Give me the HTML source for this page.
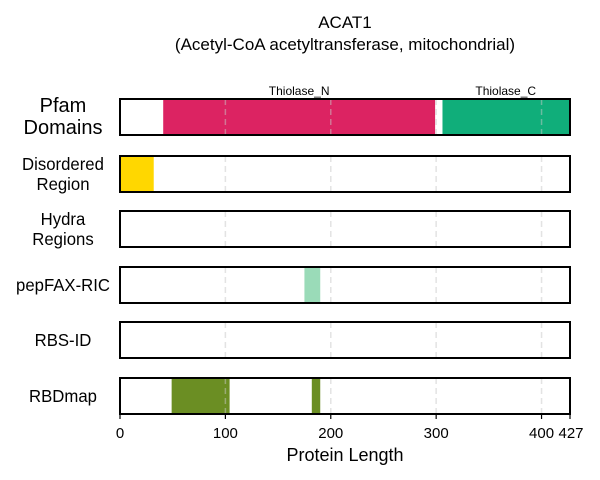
<!DOCTYPE html>
<html><head><meta charset="utf-8"><style>
body{margin:0;background:#fff;}
svg{display:block;font-family:"Liberation Sans",Arial,sans-serif;}
</style></head><body>
<svg id="chart" width="600" height="480">
<text x="345" y="28" font-size="17" text-anchor="middle">ACAT1</text>
<text x="345" y="50" font-size="17" text-anchor="middle">(Acetyl-CoA acetyltransferase, mitochondrial)</text>
<g id="rows"></g>
<g id="axis"></g>
<text x="345" y="461" font-size="18" text-anchor="middle">Protein Length</text>
</svg>
<script>
const tracks = ["Pfam Domains","Disordered Region","Hydra Regions","pepFAX-RIC","RBS-ID","RBDmap"];
const trackLabels = [["Pfam","Domains"],["Disordered","Region"],["Hydra","Regions"],["pepFAX-RIC"],["RBS-ID"],["RBDmap"]];
const segTrack = [0,0,1,3,5,5];
const segStart = [41,306,0,175,49,182];
const segEnd   = [299,427,32,190,104,190];
const segColor = ["#dc2362","#10ae7a","#ffd700","#9adbb8","#6b8e23","#6b8e23"];
const domainNames = ["Thiolase_N","Thiolase_C"];
const domainCenters = [170,366];
const ticks = [0,100,200,300,400,427];
const grid = [100,200,300,400];
const proteinLen = 427;

const NS="http://www.w3.org/2000/svg";
const x0=120,x1=570;
const xs=v=>x0+(x1-x0)*v/proteinLen;
const rowTop=[99,156,211,267,322,378], rowH=36;
function mk(t,a,p){const e=document.createElementNS(NS,t);for(const k in a)e.setAttribute(k,a[k]);p.appendChild(e);return e;}
const rows=document.getElementById('rows');
tracks.forEach((t,i)=>{
  const y=rowTop[i];
  const r=mk('rect',{x:x0,y:y,width:x1-x0,height:rowH,fill:'#fff'},rows);
  
  
  segTrack.forEach((tr,j)=>{ if(tr!==i)return;
    const s=mk('rect',{x:xs(segStart[j]),y:y,width:xs(segEnd[j])-xs(segStart[j]),height:rowH,fill:segColor[j]},rows);
    
    
  });
  grid.forEach(g=>{
    const l=mk('line',{x1:xs(g),x2:xs(g),y1:y,y2:y+rowH,stroke:'#c8c8c8','stroke-width':1.5,'stroke-dasharray':'6,4','stroke-opacity':0.5},rows);
    
    
  });
  const b=mk('rect',{x:x0,y:y,width:x1-x0,height:rowH,fill:'none',stroke:'#000','stroke-width':2},rows);
  
  
  const lab=trackLabels[i];
  const fs=i===0?20:18;
  const tx=mk('text',{x:63,'font-size':fs,'text-anchor':'middle'},rows);
  
  
  const cy=y+rowH/2;
  lab.forEach((s,k)=>{const ts=mk('tspan',{x:63,y:cy+6+(k-(lab.length-1)/2)*(fs+2)},tx);ts.textContent=s;});
  const sc=i===0?1:0.93;
  tx.setAttribute('transform','translate(63,0) scale('+sc+',1) translate(-63,0)');
});
domainNames.forEach((n,i)=>{
  const t=mk('text',{x:xs(domainCenters[i]),y:95,'font-size':12,'text-anchor':'middle'},rows);
  t.textContent=n;
  
  
});
const ax=document.getElementById('axis');
ticks.forEach(v=>{
  const l=mk('line',{x1:xs(v),x2:xs(v),y1:414,y2:419,stroke:'#000','stroke-width':1.2},ax);
  
  
  const t=mk('text',{x:xs(v)+(v===427?1:0),y:438,'font-size':15,'text-anchor':'middle'},ax);
  t.textContent=v;
  
  
});
</script>
</body></html>
